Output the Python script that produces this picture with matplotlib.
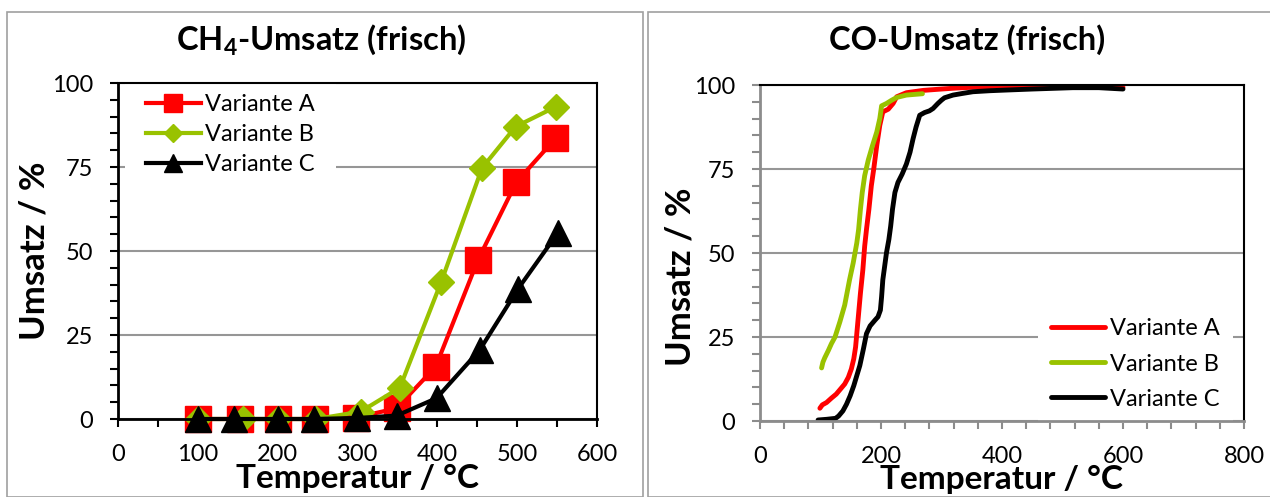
import matplotlib.pyplot as plt
from matplotlib.patches import Rectangle
from matplotlib.ticker import MultipleLocator

plt.rcParams['font.family'] = ['Lato', 'DejaVu Sans']
plt.rcParams['mathtext.fontset'] = 'custom'
plt.rcParams['mathtext.rm'] = 'Lato'
plt.rcParams['mathtext.bf'] = 'Lato:bold'

# CH4-Umsatz, Messpunkte je Variante
ch4_temp_a = [100, 153, 200, 247, 298, 349, 398, 451, 499, 548]
ch4_umsatz_a = [0, 0, 0, 0, 0.4, 3.2, 15.6, 47.4, 70.5, 83.5]
ch4_temp_b = [100, 157, 200, 248, 304, 353, 405, 456, 498, 549]
ch4_umsatz_b = [0, 0, 0, 0, 2.2, 9.3, 40.9, 74.7, 87.0, 93.0]
ch4_temp_c = [100, 145, 200, 246, 299, 349, 399, 453, 501, 551]
ch4_umsatz_c = [0, 0, 0, 0, 0.3, 1.0, 6.2, 20.5, 38.7, 55.4]

# CO-Umsatz, Rampenmessung
co_temp_a = [99, 103, 110, 118, 126, 133, 140, 146, 151, 155, 158, 160, 163, 166, 170,
             173, 176, 180, 184, 188, 193, 198, 203, 212, 220, 226, 242, 270, 300, 325,
             360, 407, 450, 500, 550, 600]
co_umsatz_a = [3.8, 4.8, 5.5, 6.8, 8.0, 9.5, 11.0, 13.0, 15.5, 18.5, 22.0, 26.0, 32.0, 38.0, 45.0,
               52.0, 57.0, 63.0, 70.0, 75.0, 82.0, 88.0, 92.0, 92.8, 94.5, 96.5, 97.7, 98.4, 98.8, 99.1,
               99.4, 99.7, 99.7, 99.7, 99.6, 99.3]
co_temp_b = [101.8, 104, 107, 113, 118, 124, 132, 140, 148, 154, 160, 163, 166, 169, 173,
             179, 186, 193, 198, 201, 209, 217, 226, 242, 255, 268.5]
co_umsatz_b = [15.8, 17.5, 18.8, 21.0, 23.0, 25.0, 29.5, 34.5, 42.0, 47.0, 53.0, 57.0, 63.0, 68.0, 73.0,
               77.7, 82.0, 86.0, 90.0, 93.8, 94.5, 95.4, 96.3, 97.0, 97.2, 97.4]
co_temp_c = [96, 110, 125, 130, 137, 143, 149, 155, 160, 165, 171, 176, 182, 190, 195,
             199, 201, 203, 206, 209, 213, 216, 219, 223, 228, 235, 242, 248, 253, 258,
             264, 272, 280, 286, 294, 300, 305, 319, 335, 352, 380, 407, 450, 517, 560, 600]
co_umsatz_c = [0.3, 0.5, 0.8, 1.5, 3.0, 5.0, 7.5, 10.5, 13.5, 16.5, 21.5, 26.0, 28.3, 30.0, 31.0,
               33.0, 37.0, 42.0, 46.0, 50.0, 54.0, 58.0, 63.0, 68.0, 71.0, 73.5, 76.5, 80.0, 84.0, 87.5,
               91.0, 91.8, 92.3, 93.0, 94.5, 95.5, 96.2, 97.0, 97.5, 98.0, 98.3, 98.5, 98.8, 99.2, 99.2, 98.8]

labels = ['Variante A', 'Variante B', 'Variante C']
farben = ['#ff0000', '#99c200', '#000000']

W, H = 1270, 497
fig = plt.figure(figsize=(W / 100, H / 100), dpi=100)


def achse(x0, y0, x1, y1):
    # Achse ueber Pixelkoordinaten (oben links = 0,0) anlegen
    return fig.add_axes([x0 / W, 1 - y1 / H, (x1 - x0) / W, (y1 - y0) / H])


def formatieren(ax, xmax, xmajor, xminor, spine_color):
    ax.set_xlim(0, xmax)
    ax.set_ylim(0, 100)
    ax.xaxis.set_major_locator(MultipleLocator(xmajor))
    ax.xaxis.set_minor_locator(MultipleLocator(xminor))
    ax.yaxis.set_major_locator(MultipleLocator(25))
    ax.yaxis.set_minor_locator(MultipleLocator(5))
    ax.tick_params(which='both', direction='out', length=6, width=1.5,
                   color=spine_color, labelsize=17, pad=12)
    ax.grid(axis='y', which='major', color='#969696', lw=1.5)
    ax.set_axisbelow('line')
    for s in ['left', 'bottom']:
        ax.spines[s].set_color(spine_color)
        ax.spines[s].set_linewidth(2)
    for s in ['top', 'right']:
        ax.spines[s].set_color('black')
        ax.spines[s].set_linewidth(1.5)


# Rahmen der beiden Diagramme
fig.add_artist(Rectangle((7 / W, 0), 636 / W, 1 - 12 / H, transform=fig.transFigure,
                         fill=False, edgecolor='#a0a0a0', lw=1.2))
fig.add_artist(Rectangle((648 / W, 0), 640 / W, 1 - 12 / H, transform=fig.transFigure,
                         fill=False, edgecolor='#a0a0a0', lw=1.2))

# Links: CH4-Umsatz
ax1 = achse(118, 83, 597, 419)
formatieren(ax1, 600, 100, 50, 'black')
ax1.plot(ch4_temp_a, ch4_umsatz_a, color=farben[0], lw=3, marker='s', ms=19,
         label=labels[0], clip_on=False)
ax1.plot(ch4_temp_b, ch4_umsatz_b, color=farben[1], lw=3, marker='D', ms=13.5,
         label=labels[1], clip_on=False)
ax1.plot(ch4_temp_c, ch4_umsatz_c, color=farben[2], lw=3, marker='^', ms=19,
         label=labels[2], clip_on=False)
leg1 = ax1.legend(loc='upper left', bbox_to_anchor=(0.0146, 1.03), fontsize=17,
                  frameon=True, fancybox=False, edgecolor='none', facecolor='white',
                  framealpha=1, handlelength=2.3, handletextpad=0.2, borderpad=0.9,
                  labelspacing=0.38, markerscale=0.66, borderaxespad=0)
leg1.set_zorder(2.2)

# Rechts: CO-Umsatz
ax2 = achse(760, 85, 1244, 421)
formatieren(ax2, 800, 200, 40, '#8c8c8c')
ax2.plot(co_temp_a, co_umsatz_a, color=farben[0], lw=3.5, solid_capstyle='round',
         label=labels[0])
ax2.plot(co_temp_b, co_umsatz_b, color=farben[1], lw=3.5, solid_capstyle='round',
         label=labels[1])
ax2.plot(co_temp_c, co_umsatz_c, color=farben[2], lw=3.5, solid_capstyle='round',
         label=labels[2])
leg2 = ax2.legend(loc='lower left', bbox_to_anchor=(0.574, -0.005), fontsize=17,
                  frameon=True, fancybox=False, edgecolor='none', facecolor='white',
                  framealpha=1, handlelength=2.3, handletextpad=0.2, borderpad=0.55,
                  labelspacing=0.6, borderaxespad=0)
leg2.set_zorder(2.2)

# Titel und Achsenbeschriftungen
fig.text(321 / W, 1 - 40 / H, r'CH$_\mathbf{4}$-Umsatz (frisch)', ha='center', va='center',
         fontsize=23.5, fontweight='bold')
fig.text(967 / W, 1 - 40 / H, 'CO-Umsatz (frisch)', ha='center', va='center',
         fontsize=23.5, fontweight='bold')
fig.text(35 / W, 1 - 251 / H, 'Umsatz / %', rotation=90, ha='center', va='center',
         fontsize=25, fontweight='bold')
fig.text(680 / W, 1 - 277 / H, 'Umsatz / %', rotation=90, ha='center', va='center',
         fontsize=25, fontweight='bold')
fig.text(357 / W, 1 - 478 / H, 'Temperatur / °C', ha='center', va='center',
         fontsize=24, fontweight='bold')
fig.text(1002 / W, 1 - 479 / H, 'Temperatur / °C', ha='center', va='center',
         fontsize=24, fontweight='bold')

plt.savefig('out.png', dpi=100)
